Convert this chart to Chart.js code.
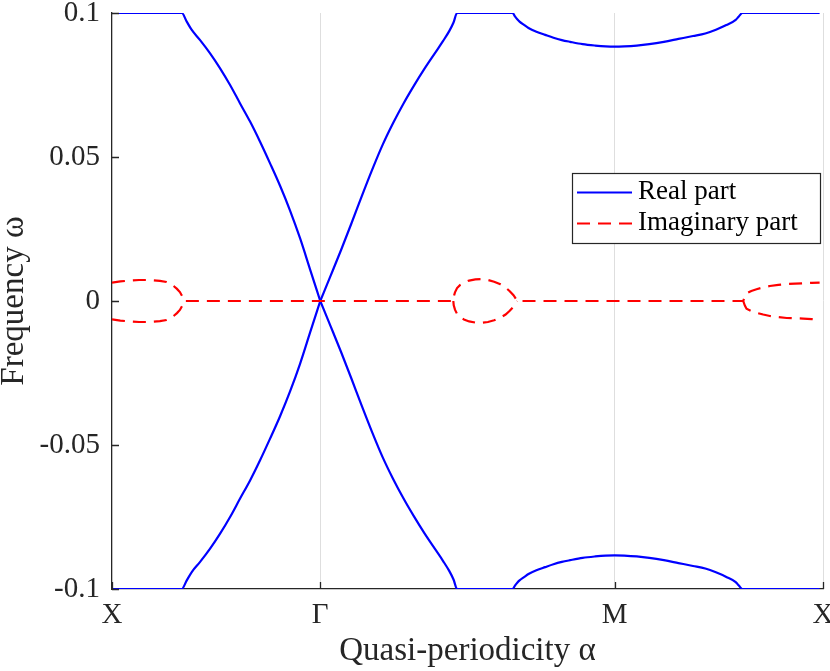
<!DOCTYPE html>
<html><head><meta charset="utf-8">
<script src="https://cdn.jsdelivr.net/npm/chart.js@4.4.1/dist/chart.umd.min.js"></script>
<style>html,body{margin:0;padding:0;background:#fff}#wrap{width:830px;height:671px;position:relative}</style>
</head><body><div id="wrap"><canvas id="c"></canvas></div>
<script>
// ---------------- data ----------------
const xTickValues = [0, 1, 2.41421, 3.41421];
const xTickLabels = ['X', 'Γ', 'M', 'X'];
const yTickValues = [-0.1, -0.05, 0, 0.05, 0.1];
const yTickLabels = ['-0.1', '-0.05', '0', '0.05', '0.1'];

// Real part, X -> Γ
const alphaRealXG = [0, 0.335, 0.359, 0.383, 0.423, 0.471, 0.519, 0.567, 0.615, 0.663, 0.711, 0.759, 0.807, 0.855, 0.903, 0.951, 1.0];
const realXGUpper = [0.1, 0.1, 0.0970, 0.0941, 0.0906, 0.0860, 0.0808, 0.0750, 0.0686, 0.0623, 0.0553, 0.0478, 0.0400, 0.0314, 0.0218, 0.0110, 0];
const realXGLower = [-0.1, -0.1, -0.0970, -0.0941, -0.0906, -0.0860, -0.0808, -0.0750, -0.0686, -0.0623, -0.0553, -0.0478, -0.0400, -0.0314, -0.0218, -0.0110, 0];

// Real part, Γ -> M -> X
const alphaRealGMX = [1.0, 1.05, 1.10, 1.15, 1.20, 1.25, 1.30, 1.35, 1.40, 1.45, 1.50, 1.55, 1.59, 1.62, 1.64, 1.657, 1.924, 1.935, 1.946, 1.957, 1.98, 2.00, 2.038, 2.08, 2.12, 2.16, 2.20, 2.26, 2.32, 2.37, 2.414, 2.46, 2.52, 2.58, 2.65, 2.72, 2.79, 2.849, 2.90, 2.95, 2.995, 3.010, 3.027, 3.398];
const realGMXUpper = [0, 0.0088, 0.0177, 0.0270, 0.0365, 0.0457, 0.0543, 0.0618, 0.0686, 0.0748, 0.0806, 0.0860, 0.0903, 0.0938, 0.0967, 0.1, 0.1, 0.0988, 0.0978, 0.0970, 0.0958, 0.0948, 0.0935, 0.0924, 0.0914, 0.0906, 0.0900, 0.0892, 0.0887, 0.0884, 0.0883, 0.0884, 0.0887, 0.0892, 0.0900, 0.0910, 0.0920, 0.0929, 0.0942, 0.0958, 0.0976, 0.0988, 0.1, 0.1];
const realGMXLower = [0, -0.0088, -0.0177, -0.0270, -0.0365, -0.0457, -0.0543, -0.0618, -0.0686, -0.0748, -0.0806, -0.0860, -0.0903, -0.0938, -0.0967, -0.1, -0.1, -0.0988, -0.0978, -0.0970, -0.0958, -0.0948, -0.0935, -0.0924, -0.0914, -0.0906, -0.0900, -0.0892, -0.0887, -0.0884, -0.0883, -0.0884, -0.0887, -0.0892, -0.0900, -0.0910, -0.0920, -0.0929, -0.0942, -0.0958, -0.0976, -0.0988, -0.1, -0.1];

// Imaginary part: three branch regions
const alphaImagLeft = [0, 0.04, 0.086, 0.13, 0.182, 0.23, 0.262, 0.278, 0.296, 0.312, 0.326, 0.336, 0.342];
const imagLeftUpper = [0.0064, 0.0068, 0.0071, 0.0073, 0.0073, 0.0070, 0.0066, 0.0061, 0.0052, 0.0042, 0.0031, 0.0018, 0];
const imagLeftLower = [-0.0064, -0.0068, -0.0071, -0.0073, -0.0073, -0.0070, -0.0066, -0.0061, -0.0052, -0.0042, -0.0031, -0.0018, 0];

const alphaImagMid = [1.639, 1.641, 1.647, 1.657, 1.672, 1.690, 1.715, 1.745, 1.775, 1.805, 1.835, 1.865, 1.890, 1.910, 1.928, 1.946];
const imagMidUpper = [0, 0.0015, 0.0030, 0.0045, 0.0056, 0.0064, 0.0071, 0.0075, 0.0076, 0.0073, 0.0067, 0.0058, 0.0047, 0.0034, 0.0020, 0];
const imagMidLower = [0, -0.0015, -0.0030, -0.0045, -0.0056, -0.0064, -0.0071, -0.0075, -0.0076, -0.0073, -0.0067, -0.0058, -0.0047, -0.0034, -0.0020, 0];

const alphaImagRight = [3.031, 3.039, 3.047, 3.070, 3.095, 3.127, 3.159, 3.200, 3.240, 3.280, 3.319, 3.360, 3.398];
const imagRightUpper = [0, 0.0016, 0.0027, 0.0035, 0.0041, 0.0047, 0.0052, 0.0056, 0.0059, 0.0060, 0.0061, 0.0063, 0.0064];
const imagRightLower = [0, -0.0016, -0.0027, -0.0035, -0.0041, -0.0047, -0.0052, -0.0056, -0.0059, -0.0060, -0.0061, -0.0063, -0.0064];

const seriesLabels = ['Real part', 'Imaginary part'];

// ---------------- build ----------------
const zip = (xs, ys) => xs.map((x, i) => ({x: x, y: ys[i]}));
const gap = (a, b) => ({x: (a + b) / 2, y: null});

const imagUpper = zip(alphaImagLeft, imagLeftUpper).concat(zip(alphaImagMid, imagMidUpper), zip(alphaImagRight, imagRightUpper));
const imagLower = zip(alphaImagLeft, imagLeftLower).concat(
  [gap(alphaImagLeft[alphaImagLeft.length - 1], alphaImagMid[0])],
  zip(alphaImagMid, imagMidLower),
  [gap(alphaImagMid[alphaImagMid.length - 1], alphaImagRight[0])],
  zip(alphaImagRight, imagRightLower));

const BLUE = '#0000ff', RED = '#ff0000', AX = '#262626';
const DASH = [13, 8];
const FONT = "'Liberation Serif', 'Times New Roman', serif";

const base = {showLine: true, pointRadius: 0, pointHoverRadius: 0, borderWidth: 2.2, spanGaps: false, fill: false};
const realStyle = Object.assign({}, base, {borderColor: BLUE, cubicInterpolationMode: 'monotone', order: 1});
const imagStyle = Object.assign({}, base, {borderColor: RED, borderDash: DASH, tension: 0, order: 0});

const zeroPad = s => { s.paddingTop = 0; s.paddingBottom = 0; s.paddingLeft = 0; s.paddingRight = 0; };

const inwardTicks = {
  id: 'inwardTicks',
  afterDatasetsDraw(chart) {
    const {ctx, chartArea: a, scales: {x, y}} = chart;
    ctx.save();
    ctx.strokeStyle = AX; ctx.lineWidth = 1.3;
    ctx.beginPath();
    x.ticks.forEach(t => { const p = Math.round(x.getPixelForValue(t.value)) + 0.5; ctx.moveTo(p, a.bottom); ctx.lineTo(p, a.bottom - 7); });
    y.ticks.forEach(t => { const p = Math.round(y.getPixelForValue(t.value)) + 0.5; ctx.moveTo(a.left, p); ctx.lineTo(a.left + 7, p); });
    ctx.stroke();
    ctx.restore();
  }
};

const boxLegend = {
  id: 'boxLegend',
  afterDraw(chart) {
    const ctx = chart.ctx;
    const L = 572.5, T = 173.5, R = 820.5, B = 243.5;
    ctx.save();
    ctx.fillStyle = '#fff';
    ctx.fillRect(L, T, R - L, B - T);
    ctx.strokeStyle = AX; ctx.lineWidth = 1.2;
    ctx.strokeRect(L, T, R - L, B - T);
    const entries = [
      {ds: chart.data.datasets[2], y: 192.5},
      {ds: chart.data.datasets[0], y: 223.5}
    ];
    entries.forEach(e => {
      ctx.beginPath();
      ctx.strokeStyle = e.ds.borderColor;
      ctx.lineWidth = e.ds.borderWidth;
      ctx.setLineDash(e.ds.borderDash || []);
      ctx.moveTo(577, e.y); ctx.lineTo(632, e.y);
      ctx.stroke();
      ctx.setLineDash([]);
      ctx.fillStyle = '#000';
      ctx.font = "27px " + FONT;
      ctx.textBaseline = 'middle';
      ctx.textAlign = 'left';
      ctx.fillText(e.ds.label, 638, e.y - 1);
    });
    ctx.restore();
  }
};

new Chart(document.getElementById('c'), {
  type: 'scatter',
  data: {
    datasets: [
      Object.assign({}, imagStyle, {label: seriesLabels[1], data: imagUpper}),
      Object.assign({}, imagStyle, {label: seriesLabels[1] + ' (lower)', data: imagLower}),
      Object.assign({}, realStyle, {label: seriesLabels[0], data: zip(alphaRealXG, realXGUpper)}),
      Object.assign({}, realStyle, {label: seriesLabels[0] + ' (lower)', data: zip(alphaRealXG, realXGLower)}),
      Object.assign({}, realStyle, {label: seriesLabels[0] + ' (Γ-M-X)', data: zip(alphaRealGMX, realGMXUpper)}),
      Object.assign({}, realStyle, {label: seriesLabels[0] + ' (Γ-M-X lower)', data: zip(alphaRealGMX, realGMXLower)})
    ]
  },
  options: {
    responsive: true,
    maintainAspectRatio: false,
    devicePixelRatio: 1,
    animation: false,
    events: [],
    layout: {padding: {top: 13, right: 7, left: 0, bottom: 0}},
    plugins: {legend: {display: false}, tooltip: {enabled: false}},
    scales: {
      x: {
        type: 'linear',
        min: 0, max: xTickValues[3],
        afterFit: s => { s.height = 82; zeroPad(s); },
        afterBuildTicks: s => { s.ticks = xTickValues.map(v => ({value: v})); },
        grid: {
          display: true, drawTicks: false, lineWidth: 1,
          color: c => (c.tick && c.tick.value === 0) ? 'rgba(0,0,0,0)' : '#dedede'
        },
        border: {display: true, color: AX, width: 1.3},
        ticks: {
          autoSkip: false, maxRotation: 0, padding: 9, color: AX,
          font: {family: FONT, size: 29},
          callback: (v, i) => xTickLabels[i]
        },
        title: {
          display: true, text: 'Quasi-periodicity α', color: AX,
          font: {family: FONT, size: 33, lineHeight: 1.2}, padding: 0
        }
      },
      y: {
        type: 'linear',
        min: -0.1, max: 0.1,
        afterFit: s => { s.width = 112; zeroPad(s); },
        afterBuildTicks: s => { s.ticks = yTickValues.map(v => ({value: v})); },
        grid: {display: false, drawTicks: false},
        border: {display: true, color: AX, width: 1.3},
        ticks: {
          autoSkip: false, padding: 12, color: AX,
          font: {family: FONT, size: 29},
          callback: (v, i) => yTickLabels[i]
        },
        title: {
          display: true, text: 'Frequency ω', color: AX,
          font: {family: FONT, size: 33, lineHeight: 0.84}, padding: 0
        }
      }
    }
  },
  plugins: [inwardTicks, boxLegend]
});
</script>
</body></html>
